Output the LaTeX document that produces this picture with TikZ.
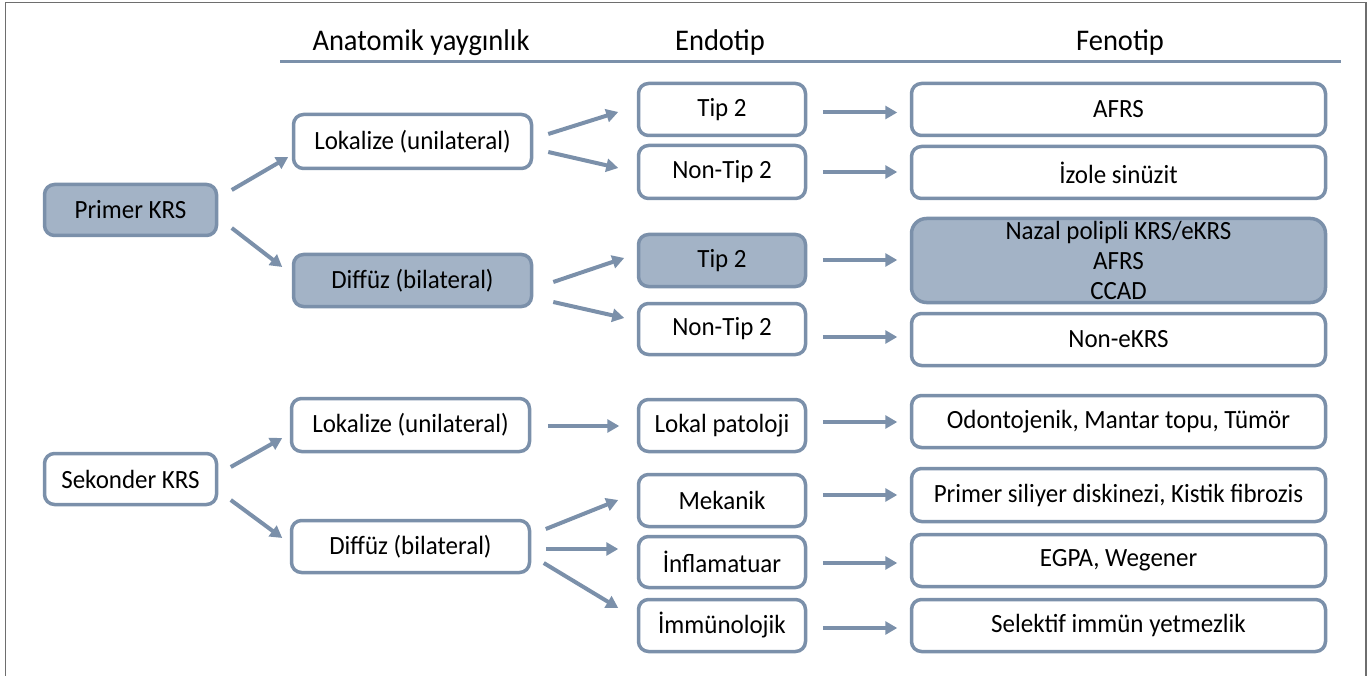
\documentclass[tikz,border=0pt]{standalone}
\usepackage{fontspec}
\setmainfont{Carlito}[FakeStretch=0.95]
\usetikzlibrary{arrows.meta,calc}
\definecolor{bordc}{HTML}{7B90AA}
\definecolor{fillc}{HTML}{A3B3C6}
\definecolor{framec}{HTML}{6E6E6E}
\begin{document}
\begin{tikzpicture}[x=1pt,y=-1pt,
  bx/.style={draw=bordc, line width=3.5pt, rounded corners=10pt, fill=white,
    inner sep=0pt, align=center, font=\fontsize{26.3}{30}\selectfont},
  fbx/.style={bx, fill=fillc},
  arr/.style={draw=bordc, line width=4pt, -{Triangle[length=12pt,width=13pt]}},
  hdr/.style={anchor=base, inner sep=0pt, font=\fontsize{30}{34}\selectfont},
  frame/.style={draw=framec, line width=1.5pt}
]
\useasboundingbox (0,0) rectangle (1370,676);
\draw[frame] (5.5,676) -- (5.5,2.5) -- (1366,2.5) -- (1366,676);

% headers
\node[hdr] (h1) at (421,51) {Anatomik yaygınlık};
\node[hdr] (h2) at (720,51) {Endotip};
\node[hdr] (h3) at (1120,51) {Fenotip};
\draw[draw=bordc, line width=3pt] (280,62) -- (1341,62);

% column 1
\node[fbx, minimum width=172, minimum height=51] (prim) at (130.5,210) {Primer KRS};
\node[bx, minimum width=172, minimum height=51] (sek) at (130.5,479) {Sekonder KRS};

% column 2
\node[bx, minimum width=238, minimum height=54] (lok1) at (412.5,141.5) {Lokalize (unilateral)};
\node[fbx, minimum width=238, minimum height=52] (dif1) at (412.5,280.5) {Diffüz (bilateral)};
\node[bx, minimum width=238, minimum height=53] (lok2) at (410.5,425) {Lokalize (unilateral)};
\node[bx, minimum width=238, minimum height=52] (dif2) at (410.5,546.5) {Diffüz (bilateral)};

% column 3
\node[bx, minimum width=167, minimum height=52] (tip2a) at (722,109.5) {Tip 2};
\node[bx, minimum width=167, minimum height=53] (nt2a) at (722,172) {Non-Tip 2};
\node[fbx, minimum width=167, minimum height=52] (tip2b) at (722,260.5) {Tip 2};
\node[bx, minimum width=167, minimum height=51] (nt2b) at (722,329) {Non-Tip 2};
\node[bx, minimum width=167, minimum height=52] (lokal) at (722,425.5) {Lokal patoloji};
\node[bx, minimum width=167, minimum height=52] (mek) at (722,500.5) {Mekanik};
\node[bx, minimum width=167, minimum height=51] (inf) at (722,562) {İnflamatuar};
\node[bx, minimum width=167, minimum height=52] (imm) at (722,625.5) {İmmünolojik};

% column 4
\node[bx, minimum width=414, minimum height=52] (afrs) at (1118.5,109.5) {AFRS};
\node[bx, minimum width=414, minimum height=52] (izole) at (1118.5,172.5) {İzole sinüzit};
\node[fbx, rounded corners=15pt, minimum width=414, minimum height=84] (nazal) at (1118.5,260.5) {Nazal polipli KRS/eKRS\\AFRS\\CCAD};
\node[bx, minimum width=414, minimum height=52] (nonek) at (1118.5,339.5) {Non-eKRS};
\node[bx, minimum width=414, minimum height=52] (odon) at (1118.5,421.5) {Odontojenik, Mantar topu, Tümör};
\node[bx, minimum width=414, minimum height=53] (psd) at (1118.5,495) {Primer siliyer diskinezi, Kistik fibrozis};
\node[bx, minimum width=414, minimum height=52] (egpa) at (1118.5,560.5) {EGPA, Wegener};
\node[bx, minimum width=414, minimum height=52] (sel) at (1118.5,625.5) {Selektif immün yetmezlik};

% arrows column 1 -> 2
\draw[arr] ($(prim.east)+(13.5,-20)$) -- ($(lok1.west)+(-3.5,15.5)$);
\draw[arr] ($(prim.east)+(13.5,18)$) -- ($(dif1.west)+(-9.5,-13.5)$);
\draw[arr] ($(sek.east)+(12.5,-12)$) -- ($(lok2.west)+(-7.5,13)$);
\draw[arr] ($(sek.east)+(12.5,21)$) -- ($(dif2.west)+(-7.5,-8.5)$);

% arrows column 2 -> 3
\draw[arr] ($(lok1.east)+(15,-7.5)$) -- ($(tip2a.west)+(-18.5,2.5)$);
\draw[arr] ($(lok1.east)+(15,10.5)$) -- ($(nt2a.west)+(-18.5,-4)$);
\draw[arr] ($(dif1.east)+(20,1.5)$) -- ($(tip2b.west)+(-12.5,-2.5)$);
\draw[arr] ($(dif1.east)+(20,21.5)$) -- ($(nt2b.west)+(-12.5,-11)$);
\draw[arr] ($(lok2.east)+(16.5,1)$) -- ($(lokal.west)+(-17.5,0.5)$);
\draw[arr] ($(dif2.east)+(14.5,-17.5)$) -- ($(mek.west)+(-18.5,-0.5)$);
\draw[arr] ($(dif2.east)+(14.5,2.5)$) -- ($(inf.west)+(-18.5,-13)$);
\draw[arr] ($(dif2.east)+(12.5,16.5)$) -- ($(imm.west)+(-18.5,-17.5)$);

% arrows column 3 -> 4
\draw[arr] ($(tip2a.east)+(15.5,3)$) -- ($(afrs.west)+(-12.5,3)$);
\draw[arr] ($(nt2a.east)+(15.5,0)$) -- ($(izole.west)+(-12.5,-0.5)$);
\draw[arr] ($(tip2b.east)+(15.5,-0.5)$) -- ($(nazal.west)+(-12.5,-0.5)$);
\draw[arr] ($(nt2b.east)+(15.5,8)$) -- ($(nonek.west)+(-12.5,-2.5)$);
\draw[arr] ($(lokal.east)+(15.5,-3.5)$) -- ($(odon.west)+(-12.5,0.5)$);
\draw[arr] ($(mek.east)+(15.5,-5.5)$) -- ($(psd.west)+(-12.5,0)$);
\draw[arr] ($(inf.east)+(15.5,1)$) -- ($(egpa.west)+(-12.5,2.5)$);
\draw[arr] ($(imm.east)+(15.5,2.5)$) -- ($(sel.west)+(-12.5,2.5)$);
\end{tikzpicture}
\end{document}
